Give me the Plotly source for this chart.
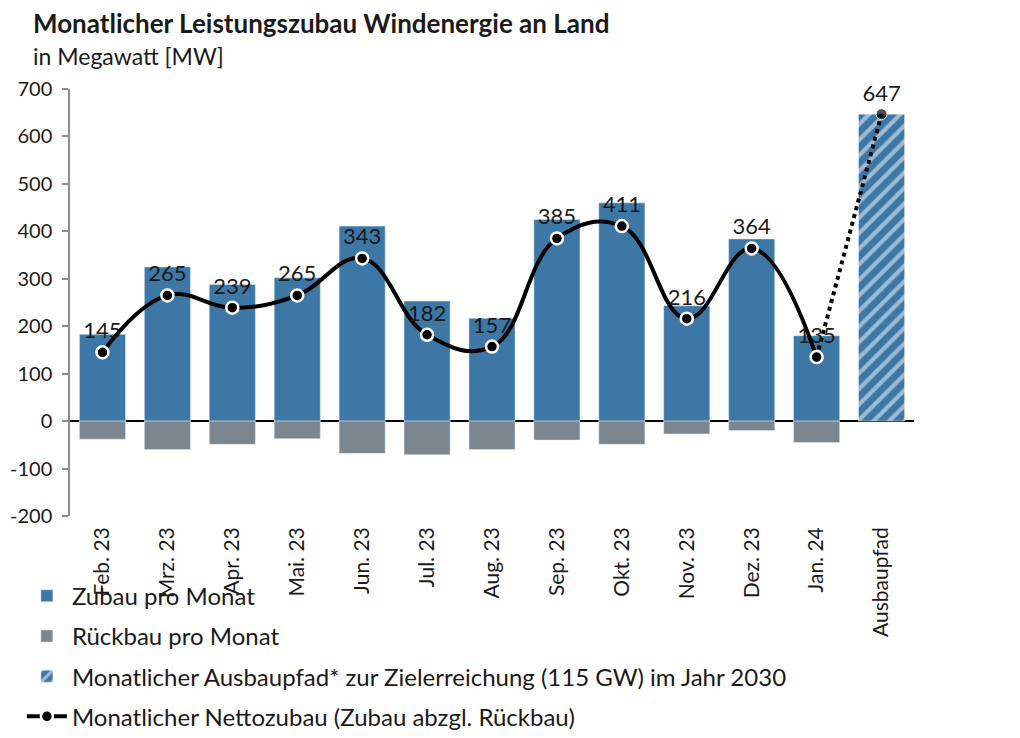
import plotly.graph_objects as go

months = ["Feb. 23", "Mrz. 23", "Apr. 23", "Mai. 23", "Jun. 23", "Jul. 23", "Aug. 23",
          "Sep. 23", "Okt. 23", "Nov. 23", "Dez. 23", "Jan. 24"]
zubau = [183, 325, 288, 302, 411, 253, 217, 425, 460, 243, 384, 180]
rueckbau = [-38, -60, -49, -37, -68, -71, -60, -40, -49, -27, -20, -45]
netto = [145, 265, 239, 265, 343, 182, 157, 385, 411, 216, 364, 135]
pfad_cat = "Ausbaupfad"
pfad_val = 647
y_ticks = [-200, -100, 0, 100, 200, 300, 400, 500, 600, 700]
y_ticktext = [str(v) for v in y_ticks]

BLUE = "#3d77a5"
GREY = "#7b868f"
FONT = "Lato"
TXT = "#1a1a1a"

fig = go.Figure()
fig.add_trace(go.Bar(x=months, y=zubau, name="Zubau pro Monat", marker_color=BLUE,
                     legendgroup="a", hoverinfo="skip"))
fig.add_trace(go.Bar(x=months, y=rueckbau, name="Rückbau pro Monat", marker_color=GREY,
                     legendgroup="b", hoverinfo="skip"))
fig.add_trace(go.Bar(x=[pfad_cat], y=[pfad_val],
                     name="Monatlicher Ausbaupfad* zur Zielerreichung (115 GW) im Jahr 2030",
                     marker=dict(color=BLUE, pattern=dict(shape="/", fgcolor="white",
                                                          bgcolor=BLUE, size=11, solidity=0.38)),
                     legendgroup="c", hoverinfo="skip"))
fig.add_trace(go.Scatter(x=[months[-1], pfad_cat], y=[netto[-1], pfad_val],
                         mode="lines+markers+text", text=["", str(pfad_val)], cliponaxis=False,
                         textposition="top center", textfont=dict(size=22, color=TXT, family=FONT),
                         line=dict(color="black", width=4, dash="dot"),
                         marker=dict(color="black", size=[0, 11]),
                         showlegend=False, legendgroup="e", hoverinfo="skip"))
fig.add_trace(go.Scatter(x=months, y=netto, name="Monatlicher Nettozubau (Zubau abzgl. Rückbau)",
                         mode="lines+markers+text", text=[str(v) for v in netto], cliponaxis=False,
                         textposition="top center", textfont=dict(size=22, color=TXT, family=FONT),
                         line=dict(color="black", width=4, shape="spline", smoothing=1.2),
                         marker=dict(color="black", size=12, line=dict(color="white", width=2.5)),
                         legendgroup="d", hoverinfo="skip"))

fig.update_layout(
    width=1020, height=738,
    paper_bgcolor="white", plot_bgcolor="white",
    font=dict(family=FONT, size=22, color=TXT),
    barmode="relative", bargap=0.29,
    margin=dict(l=62, r=114, t=81, b=230, autoexpand=False),
    annotations=[
        dict(text="<b>Monatlicher Leistungszubau Windenergie an Land</b>", xref="paper", yref="paper",
             x=-39/844, y=1 + 66/427, xanchor="left", yanchor="middle", showarrow=False,
             font=dict(size=26, color=TXT, family=FONT)),
        dict(text="in Megawatt [MW]", xref="paper", yref="paper",
             x=-39/844, y=1 + 33/427, xanchor="left", yanchor="middle", showarrow=False,
             font=dict(size=23, color=TXT, family=FONT)),
    ],
    xaxis=dict(showgrid=False, showline=False, ticks="", tickangle=-90, range=[-0.5, 12.5],
               automargin=False, ticklabelstandoff=6,
               tickfont=dict(size=21, color=TXT), fixedrange=True),
    yaxis=dict(range=[-200, 700], tickvals=y_ticks, ticktext=y_ticktext, showgrid=False,
               showline=True, automargin=False, ticklabelstandoff=6,
               linecolor="#8c8c8c", linewidth=1.5, ticks="outside", ticklen=6,
               tickcolor="#8c8c8c", tickwidth=1.5, zeroline=True, zerolinecolor="black",
               zerolinewidth=1.5, tickfont=dict(size=20, color=TXT)),
    legend=dict(x=-0.057, xanchor="left", y=-0.135, yanchor="top", orientation="v",
                bgcolor="rgba(0,0,0,0)",
                traceorder="grouped", tracegroupgap=6, font=dict(size=24, color=TXT),
                itemwidth=40),
    showlegend=True,
)

fig.write_html("out.html")
